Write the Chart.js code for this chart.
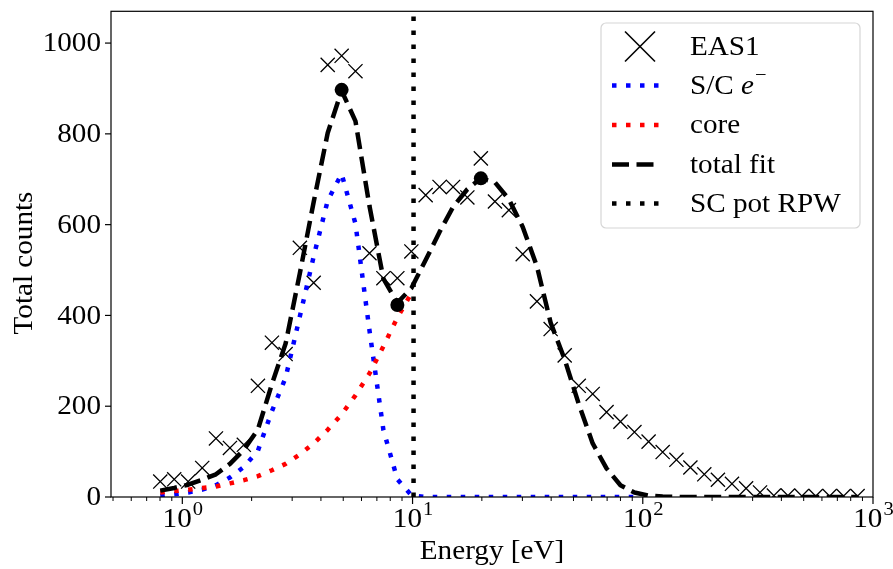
<!DOCTYPE html>
<html>
<head>
<meta charset="utf-8">
<script src="https://cdn.jsdelivr.net/npm/chart.js@4.4.1/dist/chart.umd.min.js"></script>
<style>
  html, body { margin: 0; padding: 0; background: #fff; }
  #wrap { width: 893px; height: 569px; }
</style>
</head>
<body>
<div id="wrap"><canvas id="spec" width="893" height="569"></canvas></div>
<script>
// EAS1 energy bins [eV]
const energy = [0.802, 0.922, 1.06, 1.22, 1.40, 1.61, 1.85, 2.13, 2.45, 2.81,
  3.24, 3.72, 4.28, 4.92, 5.65, 6.50, 7.47, 8.59, 9.88, 11.4,
  13.1, 15.0, 17.3, 19.8, 22.8, 26.2, 30.1, 34.7, 39.8, 45.8,
  52.7, 60.6, 69.6, 80.0, 92.0, 106, 122, 140, 161, 185,
  212, 244, 281, 323, 371, 427, 491, 564, 648, 745, 857];

// measured counts per bin
const eas1Counts = [34, 39, 34, 64, 129, 108, 115, 245, 340, 315,
  549, 472, 952, 972, 938, 537, 482, 482, 541, 665,
  683, 683, 660, 746, 651, 632, 535, 431, 370, 312,
  245, 227, 187, 166, 143, 122, 99, 82, 65, 50,
  38, 29, 19, 10, 3, 3, 2, 2, 2, 2, 2];

// spacecraft photo-electron component
const scElectrons = [3, 6, 10, 16, 26, 43, 66, 102, 189, 263,
  398, 530, 653, 712, 602, 367, 148, 39, 4, 0,
  0, 0, 0, 0, 0, 0, 0, 0, 0, 0,
  0, 0, 0, 0, 0];

// core component (below the s/c potential only)
const coreFit = [10, 13, 16, 20, 23, 30, 37, 46, 59, 73,
  94, 118, 148, 182, 224, 272, 332, 395, 449];

const totalFit = [14, 20, 27, 38, 50, 73, 104, 149, 249, 338,
  493, 650, 802, 895, 828, 641, 481, 428, 460, 522,
  584, 639, 678, 702, 693, 656, 595, 508, 384, 303,
  205, 118, 63, 26, 10, 3, 1, 0, 0, 0,
  0, 0, 0, 0, 0, 0, 0, 0, 0, 0, 0];

// fitted peak markers
const peakE = [4.92, 8.59, 19.8];
const peakCounts = [897, 423, 702];

const scPotRPW = 10.1;

const xMin = 0.49, xMax = 1000;
const yMin = 0, yMax = 1070;
const yTicks = [0, 200, 400, 600, 800, 1000];
const xDecades = [0, 1, 2, 3];
const legendLabels = ['EAS1', 'S/C', 'core', 'total fit', 'SC pot RPW'];

const FONT = '"Liberation Serif", "DejaVu Serif", serif';
const STRETCH = 1.08;   // widen Times-like glyphs a little
const DOT = [4.5, 9.5];
const DASH = [17, 7.5];

const pts = (vals) => vals.map((v, i) => ({ x: energy[i], y: v }));

function seg(ctx, x0, y0, x1, y1) {
  ctx.beginPath();
  ctx.moveTo(x0, y0);
  ctx.lineTo(x1, y1);
  ctx.stroke();
}

function textW(ctx, str, font) {
  ctx.font = font;
  return ctx.measureText(str).width * STRETCH;
}

function text(ctx, str, x, y, font, align) {
  ctx.save();
  ctx.font = font;
  ctx.textAlign = align || 'left';
  ctx.translate(x, y);
  ctx.scale(STRETCH, 1);
  ctx.fillText(str, 0, 0);
  ctx.restore();
}

// matplotlib-like frame, ticks, labels and legend
const axesPlugin = {
  id: 'mplAxes',
  afterDatasetsDraw(chart) {
    const { ctx, chartArea: a, scales: { x, y } } = chart;
    const big = '27px ' + FONT, small = '19px ' + FONT;
    ctx.save();
    ctx.strokeStyle = '#000';
    ctx.fillStyle = '#000';
    ctx.lineWidth = 1.2;
    ctx.strokeRect(a.left, a.top, a.right - a.left, a.bottom - a.top);

    // y axis
    ctx.textBaseline = 'middle';
    yTicks.forEach(v => {
      const py = y.getPixelForValue(v);
      seg(ctx, a.left - 6, py, a.left, py);
      text(ctx, String(v), a.left - 10, py + 1, big, 'right');
    });

    // x axis: minor ticks
    ctx.lineWidth = 1;
    for (let d = -1; d < 3; d++) {
      for (let m = 2; m <= 9; m++) {
        const v = m * Math.pow(10, d);
        if (v < xMin || v > xMax) continue;
        const px = x.getPixelForValue(v);
        seg(ctx, px, a.bottom, px, a.bottom + 4);
      }
    }
    // major ticks with 10^n labels
    ctx.lineWidth = 1.2;
    ctx.textBaseline = 'alphabetic';
    xDecades.forEach(n => {
      const px = x.getPixelForValue(Math.pow(10, n));
      seg(ctx, px, a.bottom, px, a.bottom + 7);
      const wBase = textW(ctx, '10', big);
      const wExp = textW(ctx, String(n), small);
      const x0 = px - (wBase + wExp) / 2;
      text(ctx, '10', x0, 527, big);
      text(ctx, String(n), x0 + wBase + 1, 515, small);
    });

    // axis titles
    text(ctx, 'Energy [eV]', (a.left + a.right) / 2, 559, big, 'center');
    ctx.save();
    ctx.translate(32, 263);
    ctx.rotate(-Math.PI / 2);
    text(ctx, 'Total counts', 0, 0, big, 'center');
    ctx.restore();

    // legend
    const bx = 601, by = 23, bw = 259, bh = 205;
    ctx.beginPath();
    ctx.roundRect(bx, by, bw, bh, 5);
    ctx.fillStyle = 'rgba(255,255,255,0.85)';
    ctx.fill();
    ctx.strokeStyle = '#d6d6d6';
    ctx.lineWidth = 1.2;
    ctx.stroke();

    const rowY = [46.5, 85.5, 125, 164.5, 203.5];
    const s0 = 612, s1 = 659, tx = 690;
    const styles = [
      null,
      { c: '#0000ff', d: DOT },
      { c: '#ff0000', d: DOT },
      { c: '#000', d: DASH },
      { c: '#000', d: DOT }
    ];
    ctx.textBaseline = 'middle';
    legendLabels.forEach((lab, k) => {
      const ry = rowY[k];
      const st = styles[k];
      if (!st) {
        ctx.strokeStyle = '#000';
        ctx.lineWidth = 1.6;
        seg(ctx, 625, ry - 15, 655, ry + 15);
        seg(ctx, 625, ry + 15, 655, ry - 15);
      } else {
        ctx.strokeStyle = st.c;
        ctx.lineWidth = 4.5;
        ctx.lineCap = 'butt';
        ctx.setLineDash(st.d);
        seg(ctx, s0, ry, s1, ry);
        ctx.setLineDash([]);
      }
      ctx.fillStyle = '#000';
      text(ctx, lab, tx, ry + 1, big);
      if (lab === 'S/C') {
        let w = textW(ctx, 'S/C ', big);
        text(ctx, 'e', tx + w, ry + 1, 'italic ' + big);
        w += textW(ctx, 'e', 'italic ' + big) + 1;
        text(ctx, '\u2212', tx + w, ry - 9, small);
      }
    });
    ctx.restore();
  }
};

const lineBase = {
  type: 'line',
  fill: false,
  pointRadius: 0,
  tension: 0,
  borderWidth: 4.5,
  borderJoinStyle: 'round',
  borderCapStyle: 'butt',
  clip: 0
};

new Chart(document.getElementById('spec'), {
  type: 'line',
  data: {
    datasets: [
      {
        type: 'scatter',
        label: 'EAS1',
        data: pts(eas1Counts),
        pointStyle: 'crossRot',
        pointRadius: 10,
        borderColor: '#000',
        backgroundColor: '#000',
        borderWidth: 1.3,
        showLine: false,
        clip: 0,
        order: 6
      },
      Object.assign({}, lineBase, {
        label: 'S/C e-',
        data: pts(scElectrons),
        borderColor: '#0000ff',
        borderDash: DOT,
        order: 5
      }),
      Object.assign({}, lineBase, {
        label: 'core',
        data: pts(coreFit),
        borderColor: '#ff0000',
        borderDash: DOT,
        order: 4
      }),
      Object.assign({}, lineBase, {
        label: 'total fit',
        data: pts(totalFit),
        borderColor: '#000',
        borderDash: DASH,
        order: 3
      }),
      Object.assign({}, lineBase, {
        label: 'SC pot RPW',
        data: [{ x: scPotRPW, y: yMin }, { x: scPotRPW, y: yMax }],
        borderColor: '#000',
        borderDash: DOT,
        order: 2
      }),
      {
        type: 'scatter',
        label: 'peaks',
        data: peakE.map((e, i) => ({ x: e, y: peakCounts[i] })),
        pointStyle: 'circle',
        pointRadius: 7,
        borderWidth: 0,
        backgroundColor: '#000',
        clip: 0,
        order: 1
      }
    ]
  },
  options: {
    responsive: false,
    animation: false,
    layout: { padding: { left: 111, right: 20, top: 7, bottom: 72 } },
    scales: {
      x: { type: 'logarithmic', min: xMin, max: xMax, display: false },
      y: { type: 'linear', min: yMin, max: yMax, display: false }
    },
    plugins: {
      legend: { display: false },
      tooltip: { enabled: false }
    }
  },
  plugins: [axesPlugin]
});
</script>
</body>
</html>
